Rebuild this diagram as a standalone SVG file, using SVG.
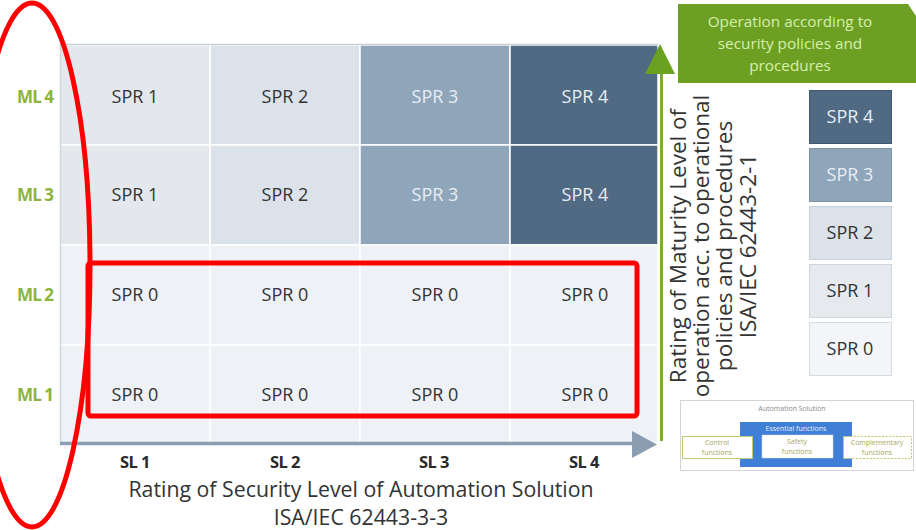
<svg xmlns="http://www.w3.org/2000/svg" width="916" height="530" viewBox="0 0 916 530">
<style>
text{font-family:"Open Sans","Liberation Sans",sans-serif;}
.cell{stroke:#ffffff;stroke-width:1.5;}
.c1{fill:#e4e8ed;}
.c2{fill:#dce2e9;}
.c3{fill:#8fa5ba;}
.c4{fill:#4f6a82;}
.c0{fill:#eef1f5;}
.t{font-size:18px;text-anchor:middle;fill:#333333;}
.tw{font-size:18px;text-anchor:middle;fill:#e8eef4;}
.ml{font-size:17px;font-weight:bold;fill:#8ab43a;text-anchor:middle;letter-spacing:-1px;}
.sl{font-size:16.5px;font-weight:bold;fill:#2a2a2a;text-anchor:middle;letter-spacing:-0.5px;}
.ax{font-size:21.3px;fill:#333333;text-anchor:middle;}
.ay{font-size:22.5px;fill:#333333;text-anchor:middle;}
.gt{font-size:15.3px;fill:#d6efae;text-anchor:middle;}
.lg{stroke-width:1;}
.small{font-size:7px;text-anchor:middle;}
</style>
<rect width="916" height="530" fill="#ffffff"/>

<g id="grid">
  <g id="cell-ml4-sl1"><rect class="cell c1" x="60" y="45" width="150" height="100"/><text class="t" x="135" y="103">SPR 1</text></g>
  <g id="cell-ml4-sl2"><rect class="cell c2" x="210" y="45" width="150" height="100"/><text class="t" x="285" y="103">SPR 2</text></g>
  <g id="cell-ml4-sl3"><rect class="cell c3" x="360" y="45" width="150" height="100"/><text class="tw" x="435" y="103">SPR 3</text></g>
  <g id="cell-ml4-sl4"><rect class="cell c4" x="510" y="45" width="148" height="100"/><text class="tw" x="585" y="103">SPR 4</text></g>
  <g id="cell-ml3-sl1"><rect class="cell c1" x="60" y="145" width="150" height="100"/><text class="t" x="135" y="201">SPR 1</text></g>
  <g id="cell-ml3-sl2"><rect class="cell c2" x="210" y="145" width="150" height="100"/><text class="t" x="285" y="201">SPR 2</text></g>
  <g id="cell-ml3-sl3"><rect class="cell c3" x="360" y="145" width="150" height="100"/><text class="tw" x="435" y="201">SPR 3</text></g>
  <g id="cell-ml3-sl4"><rect class="cell c4" x="510" y="145" width="148" height="100"/><text class="tw" x="585" y="201">SPR 4</text></g>
  <g id="cell-ml2-sl1"><rect class="cell c0" x="60" y="245" width="150" height="100"/><text class="t" x="135" y="301">SPR 0</text></g>
  <g id="cell-ml2-sl2"><rect class="cell c0" x="210" y="245" width="150" height="100"/><text class="t" x="285" y="301">SPR 0</text></g>
  <g id="cell-ml2-sl3"><rect class="cell c0" x="360" y="245" width="150" height="100"/><text class="t" x="435" y="301">SPR 0</text></g>
  <g id="cell-ml2-sl4"><rect class="cell c0" x="510" y="245" width="148" height="100"/><text class="t" x="585" y="301">SPR 0</text></g>
  <g id="cell-ml1-sl1"><rect class="cell c0" x="60" y="345" width="150" height="98"/><text class="t" x="135" y="401">SPR 0</text></g>
  <g id="cell-ml1-sl2"><rect class="cell c0" x="210" y="345" width="150" height="98"/><text class="t" x="285" y="401">SPR 0</text></g>
  <g id="cell-ml1-sl3"><rect class="cell c0" x="360" y="345" width="150" height="98"/><text class="t" x="435" y="401">SPR 0</text></g>
  <g id="cell-ml1-sl4"><rect class="cell c0" x="510" y="345" width="148" height="98"/><text class="t" x="585" y="401">SPR 0</text></g>
  <line x1="60" y1="44.5" x2="658" y2="44.5" stroke="#c9cfd6" stroke-width="1.5"/>
  <line x1="60.5" y1="45" x2="60.5" y2="443" stroke="#cfd5dc" stroke-width="1.5"/>
</g>

<g id="ml-labels">
  <text class="ml" x="35" y="103">ML 4</text>
  <text class="ml" x="35" y="201">ML 3</text>
  <text class="ml" x="35" y="301">ML 2</text>
  <text class="ml" x="35" y="401">ML 1</text>
</g>

<g id="sl-labels">
  <text class="sl" x="135" y="468">SL 1</text>
  <text class="sl" x="285" y="468">SL 2</text>
  <text class="sl" x="434" y="468">SL 3</text>
  <text class="sl" x="584" y="468">SL 4</text>
</g>

<g id="connectors">
  <line x1="60" y1="443.5" x2="636" y2="443.5" stroke="#8b9db1" stroke-width="3.5"/>
  <polygon points="632,431 657,444.5 632,458" fill="#8b9db1"/>
  <line x1="661.5" y1="441" x2="661.5" y2="70" stroke="#7cac36" stroke-width="3"/>
  <polygon points="645,74 660,44 675,74" fill="#6aa121"/>
</g>

<g id="x-axis-title">
  <text class="ax" x="361" y="497">Rating of Security Level of Automation Solution</text>
  <text class="ax" x="361" y="525">ISA/IEC 62443-3-3</text>
</g>

<g id="y-axis-title" transform="translate(0,246) rotate(-90)">
  <text class="ay" x="0" y="686">Rating of Maturity Level of</text>
  <text class="ay" x="0" y="709">operation acc. to operational</text>
  <text class="ay" x="0" y="732">policies and procedures</text>
  <text class="ay" x="0" y="756">ISA/IEC 62443-2-1</text>
</g>

<g id="operation-box">
  <polygon points="678,4 908,4 916,16 916,83 678,83" fill="#6d9f22"/>
  <text class="gt" x="790" y="27">Operation according to</text>
  <text class="gt" x="790" y="49">security policies and</text>
  <text class="gt" x="790" y="71">procedures</text>
</g>

<g id="legend">
  <g id="legend-spr4"><rect class="lg" x="809.5" y="90.5" width="82" height="53" fill="#4f6a82" stroke="#3f586f"/><text class="tw" x="850" y="123">SPR 4</text></g>
  <g id="legend-spr3"><rect class="lg" x="809.5" y="148.5" width="82" height="53" fill="#8fa5ba" stroke="#7d94a9"/><text class="tw" x="850" y="181">SPR 3</text></g>
  <g id="legend-spr2"><rect class="lg" x="809.5" y="206.5" width="82" height="53" fill="#dce2e9" stroke="#c8d0d9"/><text class="t" x="850" y="239">SPR 2</text></g>
  <g id="legend-spr1"><rect class="lg" x="809.5" y="264.5" width="82" height="53" fill="#e6eaef" stroke="#cfd5dc"/><text class="t" x="850" y="297">SPR 1</text></g>
  <g id="legend-spr0"><rect class="lg" x="809.5" y="322.5" width="82" height="53" fill="#f3f5f8" stroke="#d6dbe1"/><text class="t" x="850" y="355">SPR 0</text></g>
</g>

<g id="automation-solution">
  <rect x="680.5" y="400.5" width="233" height="70" fill="#ffffff" stroke="#d4d4d4"/>
  <text class="small" x="792" y="411" fill="#8a8a8a">Automation Solution</text>
  <rect x="740" y="422" width="112" height="45" fill="#3f7fd6"/>
  <text class="small" x="796" y="431" fill="#e8f0ff">Essential functions</text>
  <rect x="762" y="435" width="71" height="23" fill="#ffffff" stroke="#cfd8e8" stroke-width="0.5"/>
  <text class="small" x="797" y="444" fill="#a6a860">Safety</text>
  <text class="small" x="797" y="454" fill="#a6a860">functions</text>
  <rect x="682.5" y="436.5" width="70" height="22" fill="#ffffff" stroke="#c2c878" stroke-width="1"/>
  <text class="small" x="717" y="445" fill="#a6a860">Control</text>
  <text class="small" x="717" y="455" fill="#a6a860">functions</text>
  <rect x="843.5" y="436.5" width="68" height="22" fill="#ffffff" stroke="#c8c468" stroke-width="1" stroke-dasharray="2,1.5"/>
  <text class="small" x="877" y="445" fill="#a6a860">Complementary</text>
  <text class="small" x="877" y="455" fill="#a6a860">functions</text>
</g>

<g id="highlights" fill="none" stroke="#ff0000" stroke-width="5">
  <ellipse cx="32" cy="265" rx="58" ry="262"/>
  <rect x="88" y="263" width="549" height="153" rx="3"/>
</g>
</svg>
